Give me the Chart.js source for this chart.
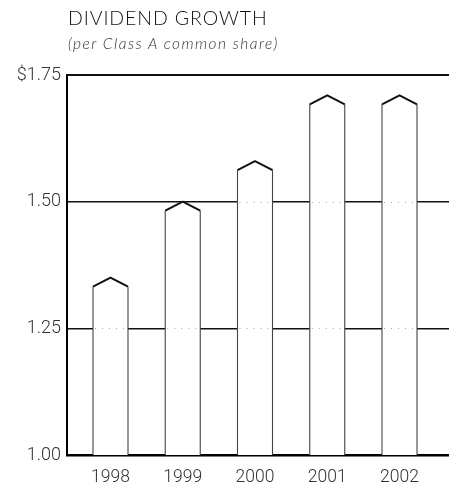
<!DOCTYPE html>
<html>
<head>
<meta charset="utf-8">
<script src="https://cdn.jsdelivr.net/npm/chart.js@4"></script>
<style>
  html, body { margin: 0; padding: 0; background: #fff; }
  #wrap { position: relative; width: 449px; height: 491px; overflow: hidden; }
  #title { position: absolute; left: 68px; top: 6px; font-family: Lato, "Open Sans", sans-serif; font-weight: 300; font-size: 19.5px; color: #111; letter-spacing: 0.9px; white-space: nowrap; }
  #subtitle { position: absolute; left: 68px; top: 34px; font-family: Lato, "Open Sans", sans-serif; font-weight: 300; font-style: italic; font-size: 15.5px; color: #333; letter-spacing: 1.45px; white-space: nowrap; }
  #box { position: absolute; left: 0; top: 0; width: 449px; height: 491px; }
</style>
</head>
<body>
<div id="wrap">
  <div id="box"><canvas id="chart"></canvas></div>
  <div id="title">DIVIDEND GROWTH</div>
  <div id="subtitle">(per Class A common share)</div>
</div>
<script>
// Dividend per Class A common share, by year
const years = [1998, 1999, 2000, 2001, 2002];
const dividends = [1.35, 1.50, 1.58, 1.71, 1.71];
const yTickValues = [1.00, 1.25, 1.50, 1.75];

const TICK_FONT = 'Roboto, "Open Sans", sans-serif';

// Draws each bar as a white column with a pointed (gabled) top
const gabledBars = {
  id: 'gabledBars',
  afterDatasetsDraw(chart) {
    const ctx = chart.ctx;
    const yScale = chart.scales.y;
    const meta = chart.getDatasetMeta(0);
    const bottom = chart.chartArea.bottom;
    const cap = 9;
    meta.data.forEach(bar => {
      const { x, y, width } = bar.getProps(['x', 'y', 'width'], true);
      const base = bottom;
      const l = x - width / 2, r = x + width / 2, s = y + cap;
      ctx.save();
      ctx.beginPath();
      ctx.moveTo(l, base);
      ctx.lineTo(l, s);
      ctx.lineTo(x, y);
      ctx.lineTo(r, s);
      ctx.lineTo(r, base);
      ctx.closePath();
      ctx.fillStyle = '#fff';
      ctx.fill();
      // faint dotted grid showing through the column
      ctx.strokeStyle = 'rgba(0,0,0,0.35)';
      ctx.lineWidth = 1;
      ctx.setLineDash([1, 6]);
      yTickValues.slice(1, 3).forEach(v => {
        const gy = Math.round(yScale.getPixelForValue(v)) + 0.5;
        if (gy > s) {
          ctx.beginPath();
          ctx.moveTo(l + 2, gy);
          ctx.lineTo(r - 2, gy);
          ctx.stroke();
        }
      });
      ctx.setLineDash([]);
      // sides
      ctx.strokeStyle = '#444';
      ctx.lineWidth = 1.1;
      ctx.beginPath();
      ctx.moveTo(l, base);
      ctx.lineTo(l, s);
      ctx.moveTo(r, s);
      ctx.lineTo(r, base);
      ctx.stroke();
      // gable
      ctx.strokeStyle = '#111';
      ctx.lineWidth = 2;
      ctx.lineJoin = 'round';
      ctx.beginPath();
      ctx.moveTo(l, s);
      ctx.lineTo(x, y);
      ctx.lineTo(r, s);
      ctx.stroke();
      ctx.restore();
    });
  }
};

new Chart(document.getElementById('chart'), {
  type: 'bar',
  data: {
    datasets: [{
      data: years.map((yr, i) => ({ x: yr, y: dividends[i] })),
      backgroundColor: 'rgba(0,0,0,0)',
      borderWidth: 0,
      barThickness: 35
    }]
  },
  options: {
    responsive: true,
    maintainAspectRatio: false,
    animation: false,
    events: [],
    layout: { padding: { top: 75, right: 0, left: 0, bottom: 0 } },
    plugins: { legend: { display: false }, tooltip: { enabled: false }, title: { display: false } },
    scales: {
      x: {
        type: 'linear',
        offset: false,
        min: 1997.398,
        max: 2002.685,
        z: 1,
        afterBuildTicks: scale => { scale.ticks = years.map(v => ({ value: v })); },
        afterFit: scale => { scale.height = 36; },
        grid: { display: false, drawTicks: false, offset: false },
        border: { display: true, color: '#000', width: 2.5 },
        ticks: {
          autoSkip: false,
          maxRotation: 0,
          padding: 12,
          color: '#333',
          font: { family: TICK_FONT, size: 17.5, weight: 300 },
          callback: v => String(v)
        }
      },
      y: {
        min: 1.00,
        max: 1.75,
        afterBuildTicks: scale => { scale.ticks = yTickValues.map(v => ({ value: v })); },
        afterFit: scale => { scale.width = 67; },
        grid: {
          color: '#111',
          drawTicks: false,
          lineWidth: c => c.tick.value === 1.75 ? 2 : (c.tick.value === 1 ? 0 : 1.4)
        },
        border: { display: true, color: '#000', width: 2 },
        ticks: {
          padding: 6,
          color: '#333',
          font: { family: TICK_FONT, size: 18, weight: 300 },
          callback: v => (v === 1.75 ? '$' : '') + Number(v).toFixed(2)
        }
      }
    }
  },
  plugins: [gabledBars]
});
</script>
</body>
</html>
